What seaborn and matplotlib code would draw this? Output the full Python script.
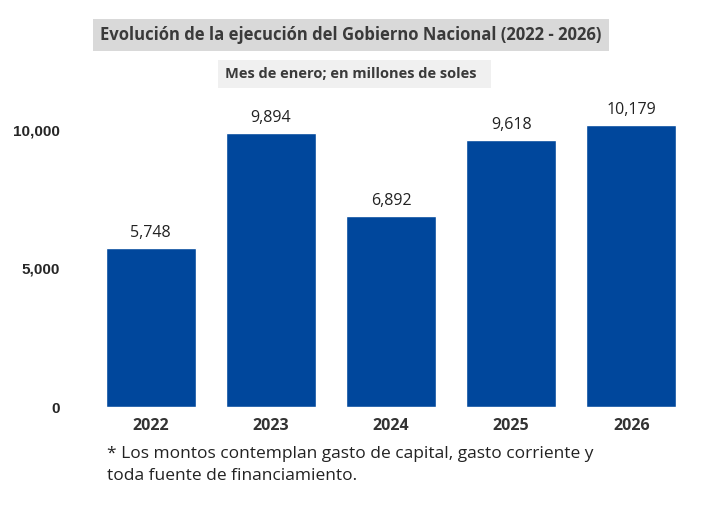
import matplotlib
matplotlib.use("Agg")
import matplotlib.pyplot as plt
import seaborn as sns

years = ["2022", "2023", "2024", "2025", "2026"]
values = [5748, 9894, 6892, 9618, 10179]
bar_color = "#00479C"

sns.set_style("white")
plt.rcParams['font.family'] = ['Open Sans', 'DejaVu Sans']

fig = plt.figure(figsize=(7.09, 5.18), dpi=100)
ax = fig.add_axes([0.128, 0.214, 0.847, 0.589])
sns.barplot(x=years, y=values, color=bar_color, width=0.75, saturation=1, ax=ax)
ax.set_xlim(-0.5, 4.5)
ax.set_ylim(0, 11000)
for i, v in enumerate(values):
    ax.text(i, v + 250, f"{v:,}", ha="center", va="bottom", fontsize=11.5, color="#222222")

ax.set_yticks([0, 5000, 10000])
ax.set_yticklabels(["0", "5,000", "10,000"], fontsize=11, fontweight="bold", family="Liberation Sans")
ax.tick_params(axis="y", length=0, pad=22)
ax.tick_params(axis="x", length=0, pad=8)
for lab in ax.get_xticklabels():
    lab.set_fontsize(11.5)
    lab.set_fontweight("bold")
    lab.set_color("#333333")
for s in ax.spines.values():
    s.set_visible(False)

fig.text(0.495, 0.933, "Evolución de la ejecución del Gobierno Nacional (2022 - 2026)",
         ha="center", va="center", fontsize=12, fontweight="bold", color="#3a3a3a",
         bbox=dict(facecolor="#d9d9d9", edgecolor="none", pad=5))
fig.text(0.50, 0.857, "Mes de enero; en millones de soles  ",
         ha="center", va="center", fontsize=10.5, fontweight="bold", color="#3a3a3a",
         bbox=dict(facecolor="#f0f0f0", edgecolor="none", pad=5))
fig.text(0.151, 0.103, "* Los montos contemplan gasto de capital, gasto corriente y\ntoda fuente de financiamiento.",
         ha="left", va="center", fontsize=12.5, color="#222222", linespacing=1.5)

fig.savefig("out.png", dpi=100)
